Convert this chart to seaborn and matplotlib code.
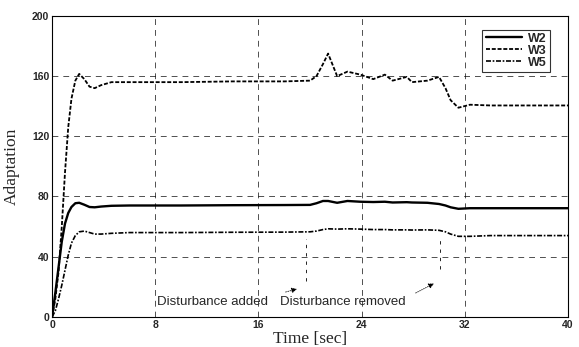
import numpy as np
import pandas as pd
import matplotlib
matplotlib.use("Agg")
import matplotlib.pyplot as plt
import seaborn as sns

# ================= data =================
time_s = [0, 0.25, 0.5, 0.75, 1.0, 1.25, 1.5, 1.8, 2.1, 2.5, 2.9, 3.3, 3.8, 4.6,
          6, 10, 14, 18, 20, 20.5, 21, 21.4, 22.1, 22.9, 23.9, 24.9, 25.8, 26.4,
          27.5, 27.9, 29.1, 30.0, 30.5, 30.9, 31.5, 32.4, 34, 40]

w2 = [0, 16, 33, 50, 62, 69, 73, 75.5, 75.8, 74.5, 73, 72.8, 73.3, 73.8,
      74, 74, 74.2, 74.3, 74.4, 75.5, 77, 77, 75.8, 77, 76.5, 76.3, 76.5, 76,
      76.2, 76, 75.8, 75, 74, 72.8, 71.8, 72.2, 72.2, 72.2]

w3 = [0, 12, 30, 60, 96, 126, 145, 157, 161.5, 158, 153, 152, 154, 156,
      156, 156, 156.5, 156.5, 157, 160, 168, 175, 160, 163, 161, 158, 161, 157,
      159.5, 156, 157, 159.5, 152, 144, 139, 141, 140.5, 140.5]

w5 = [0, 4, 12, 21, 31, 41, 49, 54, 56.5, 57, 56, 55, 55, 55.5,
      56, 56, 56.2, 56.3, 56.5, 57, 58, 58.5, 58.3, 58.5, 58.3, 58, 58, 57.8,
      57.8, 57.7, 57.8, 57.5, 56.5, 55, 53.5, 53.5, 54, 54]

x_ticks = [0, 8, 16, 24, 32, 40]
y_ticks = [0, 40, 80, 120, 160, 200]

df = pd.DataFrame({"t": time_s, "W2": w2, "W3": w3, "W5": w5})

# ================= plot =================
sns.set_theme(style="white")
plt.rcParams["font.family"] = ["Liberation Sans", "DejaVu Sans"]

fig = plt.figure(figsize=(5.79, 3.47), dpi=100)
ax = fig.add_axes([0.09, 0.087, 0.891, 0.867])

styles = {
    "W2": dict(linestyle="-", linewidth=1.7),
    "W3": dict(linestyle=(0, (2.2, 1.0)), linewidth=1.3),
    "W5": dict(linestyle=(0, (3, 1, 1, 1)), linewidth=1.2),
}
for name in ["W2", "W3", "W5"]:
    sns.lineplot(data=df, x="t", y=name, ax=ax, color="black", label=name,
                 **styles[name])

ax.set_xlim(0, 40)
ax.set_ylim(0, 200)
ax.set_xticks(x_ticks)
ax.set_yticks(y_ticks)
ax.set_xticklabels([str(v) for v in x_ticks], fontsize=7.5, fontweight="bold")
ax.set_yticklabels([str(v) for v in y_ticks], fontsize=7.5, fontweight="bold")
ax.tick_params(axis="both", length=2, pad=2, direction="in", color="black")

ax.grid(True, color="black", linestyle=(0, (7, 6)), linewidth=0.6, alpha=0.8)
for sp in ax.spines.values():
    sp.set_color("black")
    sp.set_linewidth(0.8)

ax.set_xlabel("Time [sec]", family=["Liberation Serif", "DejaVu Serif"],
              fontsize=12.5, labelpad=1)
ax.set_ylabel("Adaptation", family=["Liberation Serif", "DejaVu Serif"],
              fontsize=12.5, labelpad=9)

# disturbance markers
for xd, ytop, ybot in [(19.7, 52, 24), (30.1, 53, 32)]:
    ax.plot([xd, xd], [ybot, ytop], color="black", linewidth=0.6,
            linestyle=(0, (4, 6)))

ax.text(8.1, 6, "Disturbance added", fontsize=9.5, ha="left", va="bottom")
ax.text(17.7, 6, "Disturbance removed", fontsize=9.5, ha="left", va="bottom")
ax.annotate("", xy=(19.2, 19), xytext=(17.9, 16),
            arrowprops=dict(arrowstyle="-|>", color="black", lw=0.6,
                            linestyle=":", mutation_scale=8))
ax.annotate("", xy=(29.8, 23), xytext=(28.0, 15),
            arrowprops=dict(arrowstyle="-|>", color="black", lw=0.6,
                            linestyle=":", mutation_scale=8))

leg = ax.legend(loc="upper right", bbox_to_anchor=(0.977, 0.975),
                frameon=True, fancybox=False,
                prop={"weight": "bold", "size": 9}, handlelength=2.9,
                handletextpad=0.5, borderpad=0.25, labelspacing=0.0)
leg.get_frame().set_edgecolor("black")
leg.get_frame().set_linewidth(0.8)

fig.savefig("out.png", dpi=100)
plt.close(fig)
